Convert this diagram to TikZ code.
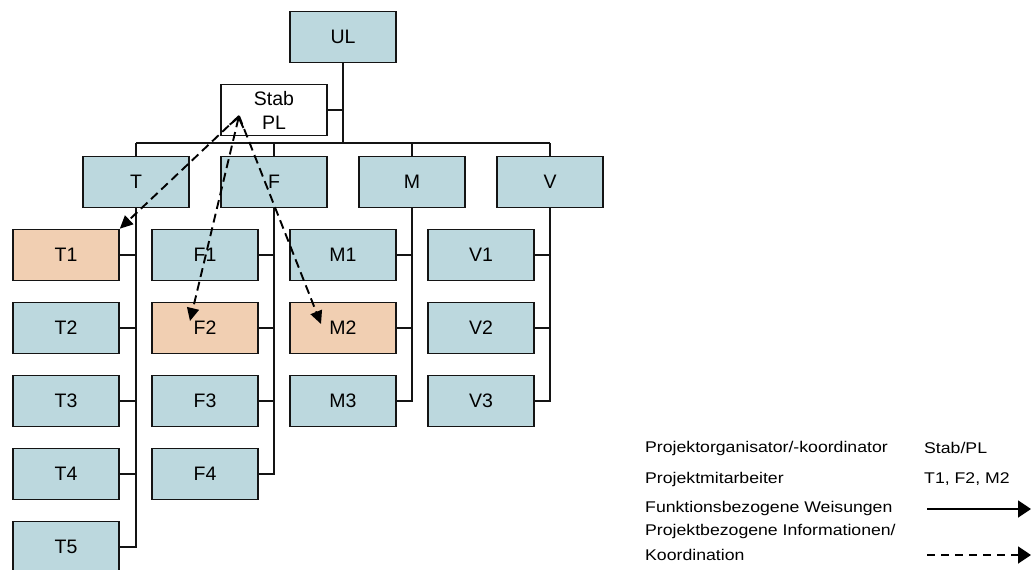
\documentclass[tikz,border=0pt]{standalone}
\usepackage{fontspec}
\setmainfont{Liberation Sans}
\newfontfamily\legendfont[FakeStretch=1.14]{Liberation Sans}
\usetikzlibrary{arrows.meta,calc}
\definecolor{unitblue}{RGB}{188,216,222}
\definecolor{projorange}{RGB}{241,207,178}
\definecolor{linegray}{RGB}{20,20,20}
\begin{document}
\begin{tikzpicture}[x=1pt,y=-1pt,
  unit/.style={draw=linegray,line width=1.6pt,fill=unitblue,minimum width=106pt,minimum height=51pt,inner sep=0pt,font=\fontsize{19.5}{24}\selectfont,align=center},
  proj/.style={unit,fill=projorange},
  staff/.style={unit,fill=white},
  wire/.style={draw=linegray,line width=1.7pt},
  info/.style={draw=black,line width=1.9pt,dash pattern=on 9pt off 5pt,-{Triangle[length=13pt,width=12pt]}},
  legtext/.style={anchor=west,inner sep=0pt,font=\legendfont\fontsize{15.5}{25}\selectfont,align=left},
  legarrow/.style={draw=black,line width=1.9pt,-{Triangle[length=13pt,width=17pt]}}]
\clip (0,0) rectangle (1033,570);
\fill[white] (0,0) rectangle (1033,570);

% management and staff
\node[unit]  (UL)   at (343,37)  {UL};
\node[staff] (Stab) at (274,110) {Stab\\PL};

% functional departments
\node[unit] (T) at (136,182) {T};
\node[unit] (F) at (274,182) {F};
\node[unit] (M) at (412,182) {M};
\node[unit] (V) at (550,182) {V};

% units of department T
\node[proj] (T1) at (66,255) {T1};
\node[unit] (T2) at (66,328) {T2};
\node[unit] (T3) at (66,401) {T3};
\node[unit] (T4) at (66,474) {T4};
\node[unit] (T5) at (66,547) {T5};
% units of department F
\node[unit] (F1) at (205,255) {F1};
\node[proj] (F2) at (205,328) {F2};
\node[unit] (F3) at (205,401) {F3};
\node[unit] (F4) at (205,474) {F4};
% units of department M
\node[unit] (M1) at (343,255) {M1};
\node[proj] (M2) at (343,328) {M2};
\node[unit] (M3) at (343,401) {M3};
% units of department V
\node[unit] (V1) at (481,255) {V1};
\node[unit] (V2) at (481,328) {V2};
\node[unit] (V3) at (481,401) {V3};

% line organisation
\coordinate (bus) at (343,143);
\draw[wire] (UL.south) -- (bus);
\draw[wire] (Stab.east) -- (Stab.east -| bus);
\draw[wire] (T.north |- bus) -- (V.north |- bus);
\foreach \d in {T,F,M,V}
  \draw[wire] (\d.north |- bus) -- (\d.north);
\draw[wire] (T.south) -- (T.south |- T5.east) -- (T5.east);
\foreach \u in {T1,T2,T3,T4}
  \draw[wire] (\u.east) -- (\u.east -| T.south);
\draw[wire] (F.south) -- (F.south |- F4.east) -- (F4.east);
\foreach \u in {F1,F2,F3}
  \draw[wire] (\u.east) -- (\u.east -| F.south);
\draw[wire] (M.south) -- (M.south |- M3.east) -- (M3.east);
\foreach \u in {M1,M2}
  \draw[wire] (\u.east) -- (\u.east -| M.south);
\draw[wire] (V.south) -- (V.south |- V3.east) -- (V3.east);
\foreach \u in {V1,V2}
  \draw[wire] (\u.east) -- (\u.east -| V.south);

% project coordination from the staff position
\coordinate (hub) at (239,116);
\coordinate (tipF) at (190,321);
\coordinate (tipM) at (321,324);
\draw[info] (hub) -- (T1.north east);
\draw[info,{Straight Barb[length=9pt,width=14pt]}-{Triangle[length=13pt,width=12pt]}] (hub) -- (tipF);
\draw[info] (hub) -- (tipM);

% legend
\node[legtext] (l1) at (645,448) {Projektorganisator/-koordinator};
\node[legtext] (l2) at (645,479) {Projektmitarbeiter};
\node[legtext] (l3) at (645,508) {Funktionsbezogene Weisungen};
\node[legtext] (l4) at (645,542) {Projektbezogene Informationen/\\Koordination};
\node[legtext] (r1) at (924,448) {Stab/PL};
\node[legtext] (r2) at (924,479) {T1, F2, M2};
\coordinate (a1) at (927,509);
\coordinate (b1) at (1031,509);
\coordinate (a2) at (927,555);
\coordinate (b2) at (1031,555);
\draw[legarrow] (a1) -- (b1);
\draw[legarrow,dash pattern=on 8pt off 6pt] (a2) -- (b2);
\end{tikzpicture}
\end{document}
